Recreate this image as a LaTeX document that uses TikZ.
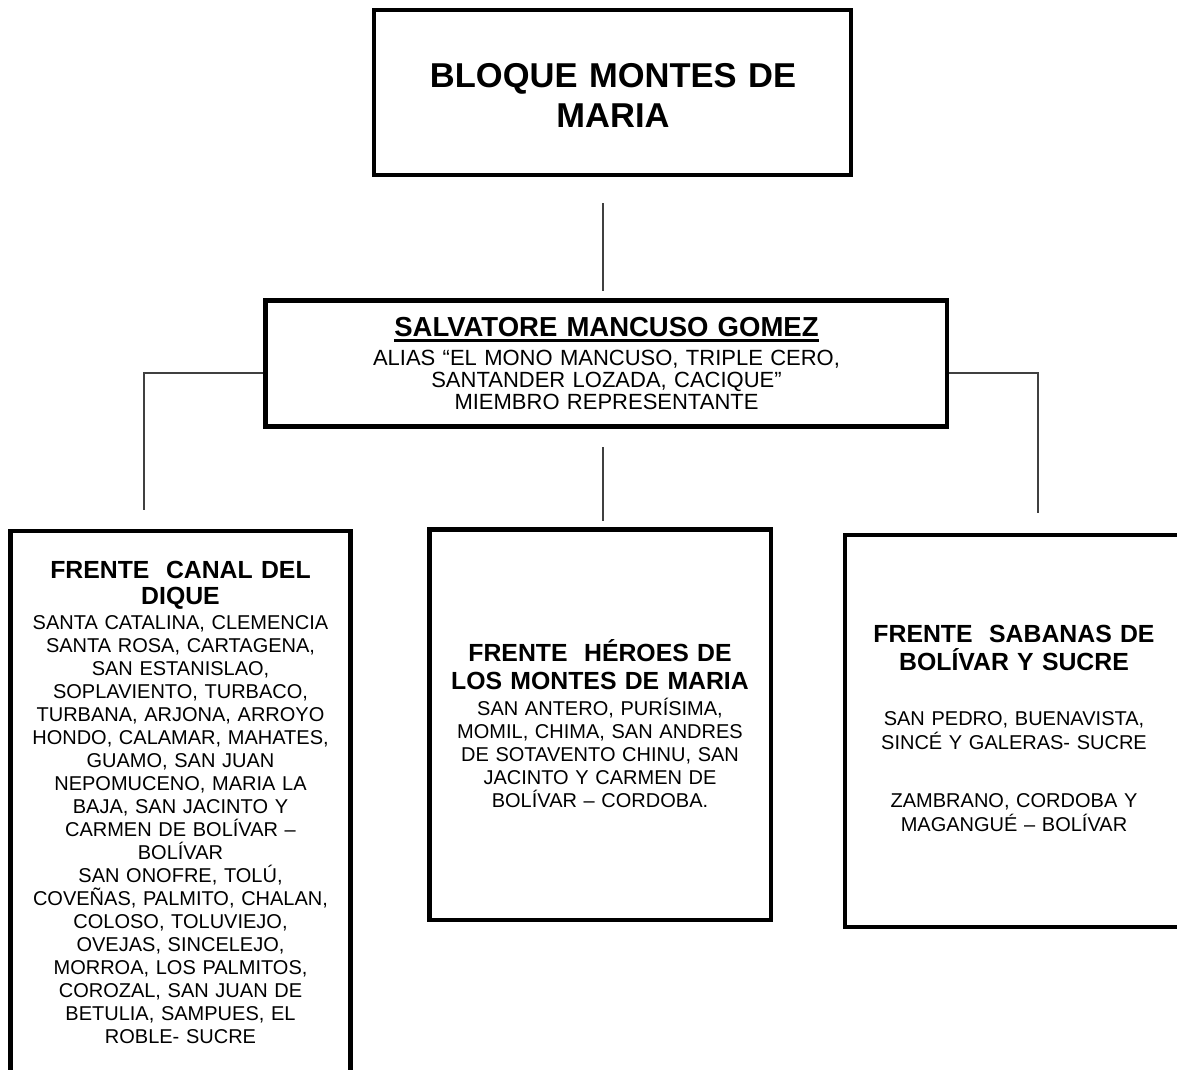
\documentclass[tikz,border=0pt]{standalone}
\usepackage{fontspec}
\setmainfont{Liberation Sans}
\newcommand\ulbar[1]{\setbox0=\hbox{#1}\rlap{\rule[-6pt]{\wd0}{3pt}}\box0}
\begin{document}
\begin{tikzpicture}[x=1pt,y=-1pt,
  box/.style={draw=black, line width=4.3pt, rectangle, inner sep=0pt},
  conn/.style={draw=black!75, line width=1.1pt},
  ttl/.style={inner sep=0pt, anchor=base, align=center, font=\bfseries\fontsize{24.8}{28}\selectfont},
  bodytxt/.style={inner sep=0pt, anchor=base, align=center, font=\fontsize{20}{23}\selectfont}
]
\useasboundingbox (0,0) rectangle (1177,1069);
\clip (0,0) rectangle (1177,1069);

% boxes
\node[box, minimum width=477, minimum height=165] (bloque) at (612.5,92.5) {};
\node[box, minimum width=681.5, minimum height=126] (mancuso) at (606.25,363.5) {};
\node[box, minimum width=340, minimum height=600, anchor=north] (canal) at (180.5,529) {};
\node[box, minimum width=341.5, minimum height=390.5] (heroes) at (600.25,724.75) {};
\node[box, minimum width=360, minimum height=392, anchor=north west] (sabanas) at (842.5,532.5) {};

% texts
\node[ttl, font=\bfseries\fontsize{34.5}{40}\selectfont, text width=520] (bloquetxt) at (613,87) {BLOQUE MONTES DE\\MARIA};

\node[ttl, font=\bfseries\fontsize{27.5}{29}\selectfont, text width=640] (mancusottl) at (606.5,336) {\ulbar{SALVATORE MANCUSO GOMEZ}};
\node[bodytxt, font=\fontsize{22}{22}\selectfont, text width=640] (mancusobody) at (606.5,365) {ALIAS “EL MONO MANCUSO, TRIPLE CERO,\\SANTANDER LOZADA, CACIQUE”\\MIEMBRO REPRESENTANTE};

\node[ttl, font=\bfseries\fontsize{24.8}{26}\selectfont, text width=340] (canalttl) at (180.5,578.6) {FRENTE~ CANAL DEL\\DIQUE};
\node[bodytxt, font=\fontsize{20}{23}\selectfont, text width=340] (canalbody) at (180.5,629.7) {SANTA CATALINA, CLEMENCIA\\SANTA ROSA, CARTAGENA,\\SAN ESTANISLAO,\\SOPLAVIENTO, TURBACO,\\TURBANA, ARJONA, ARROYO\\HONDO, CALAMAR, MAHATES,\\GUAMO, SAN JUAN\\NEPOMUCENO, MARIA LA\\BAJA, SAN JACINTO Y\\CARMEN DE BOLÍVAR –\\BOLÍVAR\\SAN ONOFRE, TOLÚ,\\COVEÑAS, PALMITO, CHALAN,\\COLOSO, TOLUVIEJO,\\OVEJAS, SINCELEJO,\\MORROA, LOS PALMITOS,\\COROZAL, SAN JUAN DE\\BETULIA, SAMPUES, EL\\ROBLE- SUCRE};

\node[ttl, text width=340] (heroesttl) at (600,661.7) {FRENTE~ HÉROES DE\\LOS MONTES DE MARIA};
\node[bodytxt, font=\fontsize{20}{22.9}\selectfont, text width=340] (heroesbody) at (600,715.7) {SAN ANTERO, PURÍSIMA,\\MOMIL, CHIMA, SAN ANDRES\\DE SOTAVENTO CHINU, SAN\\JACINTO Y CARMEN DE\\BOLÍVAR – CORDOBA.};

\node[ttl, text width=330] (sabanasttl) at (1014,642.7) {FRENTE~ SABANAS DE\\BOLÍVAR Y SUCRE};
\node[bodytxt, font=\fontsize{20}{24}\selectfont, text width=330] (sabanasbody) at (1014,725) {SAN PEDRO, BUENAVISTA,\\SINCÉ Y GALERAS- SUCRE\\[34pt]ZAMBRANO, CORDOBA Y\\MAGANGUÉ – BOLÍVAR};

% connectors
\coordinate (topA) at (603,203);
\coordinate (topB) at (603,291);
\draw[conn] (topA) -- (topB);
\coordinate (lcorner) at (144,373);
\coordinate (lend) at (144,510);
\draw[conn] (lcorner -| mancuso.west) -- (lcorner) -- (lend);
\coordinate (rcorner) at (1038,373);
\coordinate (rend) at (1038,513);
\draw[conn] (rcorner -| mancuso.east) -- (rcorner) -- (rend);
\coordinate (midA) at (603,447);
\coordinate (midB) at (603,521);
\draw[conn] (midA) -- (midB);
\end{tikzpicture}
\end{document}
